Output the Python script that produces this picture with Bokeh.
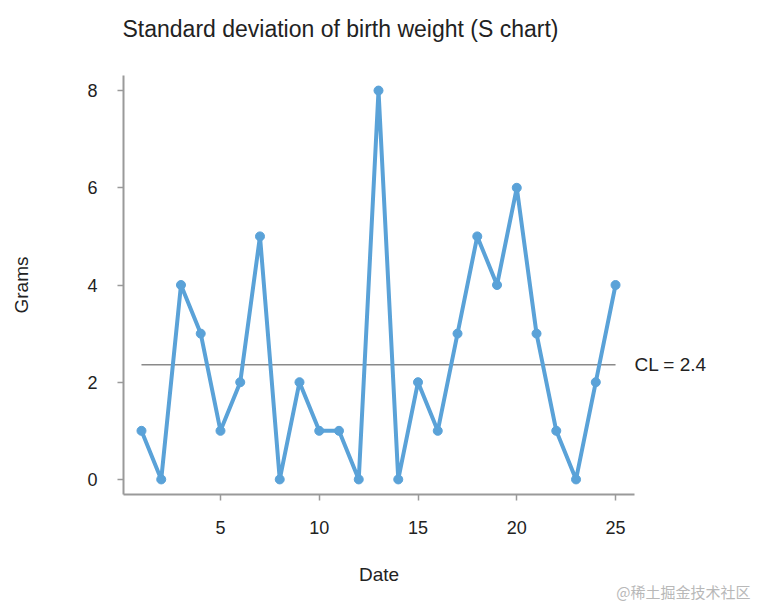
from bokeh.plotting import figure
from bokeh.models import Range1d, FixedTicker, Title, LinearAxis
from bokeh.embed import file_html
from bokeh.resources import INLINE

dates = list(range(1, 26))
sd_grams = [1, 0, 4, 3, 1, 2, 5, 0, 2, 1, 1, 0, 8, 0, 2, 1, 3, 5, 4, 6, 3, 1, 0, 2, 4]
cl_value = round(sum(sd_grams) / len(sd_grams), 2)
cl_text = f"CL = {cl_value:.1f}"
x_ticks = [5, 10, 15, 20, 25]
y_ticks = [0, 2, 4, 6, 8]

FONT = "Liberation Sans"
BLUE = "#5aa2d8"
GRAY = "#9a9a9a"
TXT = "#222222"

p = figure(width=756, height=604, output_backend="svg", toolbar_location=None,
           x_range=Range1d(0.09, 25.96), y_range=Range1d(-0.31, 8.31),
           min_border_left=123, min_border_right=122, min_border_top=75, min_border_bottom=110)
p.outline_line_color = None
p.grid.grid_line_color = None
p.title.text = ""

# spacer (closest to the frame), then the visible title above it
p.add_layout(Title(text=" ", text_font_size="2px", standoff=30), "above")
p.add_layout(Title(text="Standard deviation of birth weight (S chart)", align="left",
                   text_font=FONT, text_font_size="23px", text_font_style="normal",
                   text_color=TXT, offset=-1, standoff=0), "above")

for ax in (p.xaxis[0], p.yaxis[0]):
    ax.axis_line_color = GRAY
    ax.axis_line_width = 2
    ax.major_tick_line_color = GRAY
    ax.major_tick_line_width = 1.5
    ax.major_tick_in = 0
    ax.major_tick_out = 6
    ax.minor_tick_line_color = None
    ax.major_label_text_font = FONT
    ax.major_label_text_font_size = "18px"
    ax.major_label_text_color = TXT
    ax.axis_label_text_font = FONT
    ax.axis_label_text_font_size = "19px"
    ax.axis_label_text_font_style = "normal"
    ax.axis_label_text_color = TXT

p.xaxis.ticker = FixedTicker(ticks=x_ticks)
p.yaxis.ticker = FixedTicker(ticks=y_ticks)
p.xaxis.axis_label = "Date"
p.yaxis.axis_label = "Grams"
p.xaxis.major_label_standoff = 20
p.yaxis.major_label_standoff = 20
p.xaxis.axis_label_standoff = 27
p.yaxis.axis_label_standoff = 52

# right-hand axis used only to label the centre line
cl_axis = LinearAxis(ticker=FixedTicker(ticks=[cl_value]),
                     major_label_overrides={cl_value: cl_text},
                     axis_line_color=None, major_tick_line_color=None,
                     major_tick_in=0, major_tick_out=0,
                     minor_tick_line_color=None, major_label_standoff=0,
                     major_label_text_font=FONT, major_label_text_font_size="19px",
                     major_label_text_color=TXT)
p.add_layout(cl_axis, "right")

# center line
p.line([dates[0], dates[-1]], [cl_value, cl_value], line_color="#8a8a8a", line_width=1.5)

p.line(dates, sd_grams, line_color=BLUE, line_width=4)
p.scatter(dates, sd_grams, size=9, fill_color=BLUE, line_color=BLUE)

wm = Title(text="@稀土掘金技术社区", align="right", vertical_align="top",
           text_font="Noto Sans CJK SC", text_font_size="15px", text_font_style="normal",
           text_color="#b8b8b8", offset=-116, standoff=-14)
p.add_layout(wm, "below")

open("out.html", "w").write(file_html(p, INLINE))
